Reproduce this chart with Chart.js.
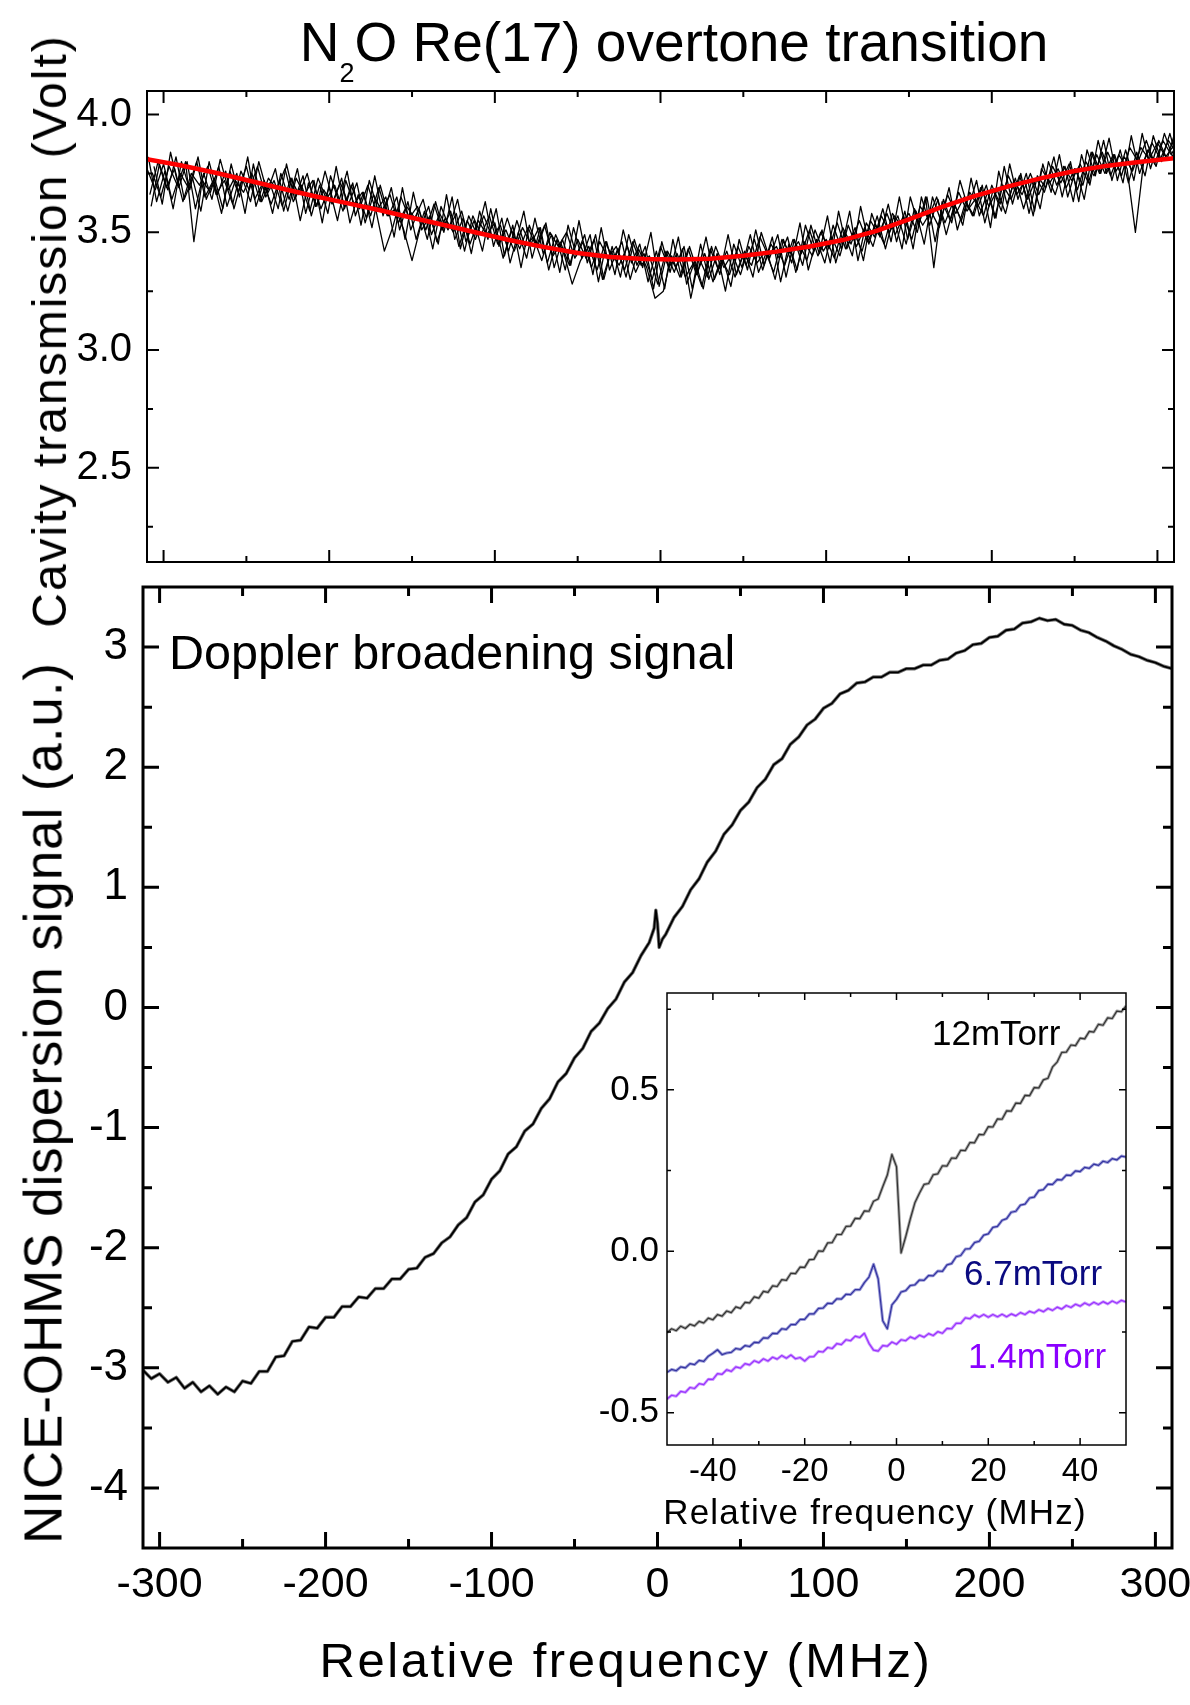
<!DOCTYPE html>
<html><head><meta charset="utf-8">
<script src="https://cdn.jsdelivr.net/npm/chart.js@4.4.1/dist/chart.umd.min.js"></script>
<style>
html,body{margin:0;padding:0;background:#fff;}
#wrap{position:relative;width:1190px;height:1705px;overflow:hidden;background:#fff}
canvas{position:absolute;left:0;top:0}
.t{position:absolute;white-space:nowrap;line-height:1;font-family:'Liberation Sans',Arial,Helvetica,sans-serif;color:#000}
.rot{transform:translate(-50%,-50%) rotate(-90deg)}
.cx{transform:translateX(-50%)}
.sub{font-size:27px;position:relative;top:21px}
</style></head><body>
<div id="wrap">
<canvas id="cTop" width="1190" height="1705"></canvas>
<canvas id="cMain" width="1190" height="1705"></canvas>
<canvas id="cInset" width="1190" height="1705"></canvas>
<div class="t cx" style="left:674px;top:15px;font-size:55px">N<span class="sub">2</span>O Re(17) overtone transition</div>
<div class="t rot" style="left:50px;top:331px;font-size:48px;letter-spacing:2px">Cavity transmission (Volt)</div>
<div class="t rot" style="left:43px;top:1103px;font-size:53px;letter-spacing:0.9px">NICE-OHMS dispersion signal (a.u.)</div>
<div class="t cx" style="left:626px;top:1636px;font-size:49px;letter-spacing:2.5px">Relative frequency (MHz)</div>
<div class="t" style="left:169px;top:628px;font-size:48.5px">Doppler broadening signal</div>
<div class="t cx" style="left:875px;top:1494px;font-size:35px;letter-spacing:1.2px">Relative frequency (MHz)</div>
<div class="t" style="left:932px;top:1015px;font-size:35px;color:#000">12mTorr</div>
<div class="t" style="left:964px;top:1255px;font-size:35px;color:#0a0a80">6.7mTorr</div>
<div class="t" style="left:968px;top:1338px;font-size:35px;color:#8a00ff">1.4mTorr</div>
</div>
<script>
// ---------------- DATA ----------------
// Top panel: cavity transmission (V) vs relative frequency (MHz), several overlaid sweeps
const topFreqStart = -310, topFreqStep = 5, topFreqCount = 125;
const topTraceOffsets = [0, 1.7, 3.3, 0.8, 2.5, 4.2];
const topTraceA = [3.77,3.68,3.79,3.64,3.75,3.69,3.80,3.65,3.72,3.58,
3.76,3.67,3.78,3.64,3.71,3.62,3.72,3.59,3.73,3.66,
3.72,3.60,3.69,3.55,3.72,3.62,3.67,3.57,3.69,3.57,
3.60,3.51,3.38,3.52,3.61,3.46,3.56,3.50,3.59,3.45,
3.55,3.49,3.54,3.39,3.51,3.43,3.52,3.44,3.53,3.40,
3.45,3.36,3.47,3.39,3.47,3.30,3.42,3.36,3.44,3.33,
3.41,3.30,3.44,3.35,3.41,3.31,3.37,3.27,3.43,3.34,
3.42,3.31,3.41,3.36,3.48,3.40,3.44,3.36,3.47,3.41,
3.51,3.40,3.47,3.39,3.52,3.45,3.55,3.46,3.53,3.45,
3.58,3.53,3.58,3.50,3.65,3.35,3.63,3.55,3.67,3.59,
3.64,3.57,3.70,3.62,3.74,3.66,3.72,3.57,3.77,3.71,
3.77,3.69,3.77,3.70,3.84,3.75,3.84,3.76,3.82,3.76,
3.86,3.81,3.88,3.82,3.87];
const topTraceB = [3.66,3.80,3.69,3.77,3.63,3.75,3.70,3.78,3.66,3.72,
3.62,3.76,3.68,3.78,3.65,3.72,3.61,3.73,3.66,3.75,
3.61,3.68,3.62,3.71,3.62,3.71,3.54,3.66,3.59,3.66,
3.54,3.61,3.56,3.64,3.49,3.58,3.51,3.58,3.42,3.57,
3.49,3.57,3.45,3.51,3.42,3.52,3.45,3.52,3.37,3.49,
3.41,3.28,3.38,3.44,3.34,3.46,3.38,3.46,3.30,3.43,
3.35,3.22,3.25,3.40,3.31,3.43,3.32,3.41,3.29,3.39,
3.32,3.44,3.36,3.47,3.34,3.45,3.39,3.48,3.33,3.46,
3.40,3.50,3.43,3.54,3.43,3.50,3.42,3.55,3.49,3.58,
3.49,3.57,3.47,3.61,3.56,3.65,3.54,3.63,3.55,3.67,
3.61,3.70,3.56,3.70,3.64,3.74,3.64,3.73,3.67,3.78,
3.71,3.79,3.68,3.80,3.74,3.84,3.74,3.83,3.77,3.50,
3.80,3.88,3.81,3.89,3.83];
const topTraceC = [3.75,3.65,3.78,3.70,3.80,3.46,3.72,3.67,3.78,3.61,
3.72,3.67,3.75,3.63,3.73,3.68,3.77,3.63,3.70,3.59,
3.73,3.64,3.70,3.59,3.70,3.60,3.70,3.59,3.42,3.52,
3.65,3.56,3.61,3.51,3.62,3.51,3.59,3.44,3.55,3.47,
3.57,3.48,3.53,3.42,3.55,3.44,3.48,3.38,3.50,3.44,
3.50,3.39,3.46,3.35,3.46,3.39,3.44,3.34,3.46,3.36,
3.40,3.28,3.42,3.33,3.43,3.22,3.39,3.31,3.44,3.35,
3.41,3.32,3.44,3.37,3.42,3.33,3.47,3.41,3.46,3.38,
3.51,3.42,3.48,3.40,3.53,3.44,3.52,3.44,3.57,3.50,
3.57,3.45,3.60,3.53,3.59,3.52,3.66,3.58,3.65,3.57,
3.69,3.61,3.68,3.58,3.72,3.66,3.75,3.66,3.74,3.66,
3.78,3.72,3.79,3.71,3.83,3.75,3.83,3.74,3.86,3.80,
3.89,3.79,3.89,3.83,3.89];
const topTraceD = [3.82,3.63,3.76,3.60,3.80,3.68,3.82,3.64,3.73,3.60,
3.79,3.65,3.82,3.61,3.72,3.58,3.75,3.64,3.77,3.58,
3.72,3.54,3.74,3.63,3.76,3.57,3.67,3.52,3.70,3.57,
3.65,3.47,3.67,3.51,3.57,3.45,3.66,3.47,3.56,3.41,
3.59,3.47,3.60,3.40,3.53,3.35,3.53,3.44,3.54,3.35,
3.47,3.36,3.55,3.37,3.49,3.30,3.44,3.31,3.49,3.36,
3.44,3.26,3.46,3.33,3.48,3.28,3.38,3.26,3.44,3.32,
3.49,3.32,3.42,3.31,3.50,3.39,3.49,3.31,3.47,3.36,
3.53,3.41,3.57,3.37,3.50,3.40,3.61,3.45,3.57,3.43,
3.57,3.43,3.65,3.53,3.65,3.46,3.64,3.54,3.72,3.60,
3.72,3.54,3.68,3.59,3.79,3.64,3.75,3.59,3.79,3.67,
3.83,3.65,3.77,3.64,3.84,3.75,3.90,3.72,3.85,3.72,
3.92,3.77,3.89,3.81,3.93];
const topTraceE = [3.61,3.79,3.68,3.82,3.64,3.73,3.59,3.80,3.66,3.76,
3.60,3.73,3.63,3.80,3.67,3.77,3.59,3.73,3.55,3.71,
3.61,3.76,3.63,3.73,3.54,3.66,3.56,3.74,3.57,3.69,
3.51,3.63,3.47,3.59,3.43,3.61,3.52,3.64,3.46,3.55,
3.42,3.60,3.44,3.56,3.45,3.59,3.39,3.52,3.34,3.47,
3.34,3.52,3.39,3.49,3.29,3.46,3.32,3.51,3.37,3.45,
3.29,3.42,3.26,3.47,3.31,3.44,3.33,3.48,3.30,3.39,
3.27,3.47,3.34,3.51,3.36,3.48,3.29,3.45,3.34,3.53,
3.42,3.51,3.37,3.59,3.43,3.52,3.38,3.58,3.48,3.62,
3.46,3.59,3.43,3.65,3.53,3.64,3.49,3.62,3.53,3.73,
3.57,3.67,3.56,3.78,3.62,3.75,3.58,3.74,3.69,3.82,
3.65,3.80,3.63,3.85,3.74,3.89,3.72,3.85,3.71,3.84,
3.74,3.91,3.80,3.92,3.79];
const topTraceF = [3.78,3.62,3.84,3.69,3.80,3.60,3.75,3.64,3.81,3.68,
3.75,3.58,3.79,3.63,3.71,3.60,3.79,3.64,3.74,3.57,
3.70,3.58,3.78,3.60,3.71,3.53,3.72,3.60,3.65,3.48,
3.69,3.51,3.60,3.47,3.63,3.50,3.65,3.43,3.57,3.49,
3.63,3.44,3.56,3.37,3.50,3.39,3.56,3.41,3.49,3.33,
3.53,3.40,3.49,3.32,3.52,3.34,3.43,3.31,3.47,3.35,
3.50,3.27,3.42,3.35,3.44,3.26,3.45,3.30,3.41,3.25,
3.45,3.35,3.49,3.33,3.42,3.30,3.47,3.37,3.54,3.34,
3.47,3.37,3.53,3.43,3.59,3.38,3.54,3.48,3.60,3.46,
3.65,3.47,3.59,3.45,3.65,3.55,3.69,3.51,3.63,3.57,
3.70,3.52,3.76,3.62,3.73,3.60,3.72,3.60,3.80,3.70,
3.78,3.63,3.83,3.70,3.89,3.75,3.83,3.71,3.91,3.75,
3.85,3.78,3.92,3.82,3.91];
const fitFreq = [-310,-290,-270,-250,-230,-210,-190,-170,-150,-130,-110,-90,-70,-50,-30,-10,10,30,50,70,90,110,130,150,170,190,210,230,250,270,290,310];
const fitTransmission = [3.810,3.785,3.755,3.722,3.688,3.655,3.625,3.595,3.562,3.530,3.497,3.465,3.437,3.412,3.395,3.387,3.385,3.388,3.400,3.418,3.440,3.467,3.505,3.555,3.608,3.655,3.695,3.730,3.760,3.783,3.800,3.815];

// Bottom panel: NICE-OHMS dispersion signal (a.u.)
const mainFreq = [-310,-305,-300,-295,-290,-285,-280,-275,-270,-265,-260,-255,-250,-245,-240,-235,-230,-225,-220,-215,-210,-205,-200,-195,-190,-185,-180,-175,-170,-165,-160,-155,-150,-145,-140,-135,-130,-125,-120,-115,-110,-105,-100,-95,-90,-85,-80,-75,-70,-65,-60,-55,-50,-45,-40,-35,-30,-25,-20,-15,-10,-5,
-2,-1,0,1,3,
5,10,15,20,25,30,35,40,45,50,55,60,65,70,75,80,85,90,95,100,105,110,115,120,125,130,135,140,145,150,155,160,165,170,175,180,185,190,195,200,205,210,215,220,225,230,235,240,245,250,255,260,265,270,275,280,285,290,295,300,305,310];
const mainSignal = [-3.02,-3.09,-3.05,-3.12,-3.08,-3.17,-3.12,-3.20,-3.15,-3.22,-3.16,-3.20,-3.11,-3.13,-3.03,-3.03,-2.91,-2.90,-2.78,-2.77,-2.66,-2.67,-2.58,-2.58,-2.49,-2.49,-2.41,-2.42,-2.34,-2.34,-2.26,-2.26,-2.18,-2.17,-2.08,-2.05,-1.96,-1.91,-1.81,-1.75,-1.62,-1.56,-1.43,-1.36,-1.22,-1.16,-1.03,-0.97,-0.84,-0.76,-0.62,-0.55,-0.42,-0.34,-0.20,-0.13,-0.01,0.07,0.21,0.29,0.43,0.54,
0.66,0.81,0.70,0.50,0.57,
0.61,0.75,0.84,0.98,1.07,1.21,1.30,1.44,1.52,1.64,1.71,1.83,1.90,2.02,2.07,2.19,2.25,2.35,2.40,2.49,2.53,2.61,2.64,2.70,2.71,2.75,2.75,2.79,2.79,2.82,2.82,2.85,2.85,2.89,2.90,2.95,2.97,3.02,3.03,3.08,3.09,3.14,3.15,3.20,3.21,3.24,3.22,3.23,3.19,3.18,3.14,3.12,3.08,3.05,3.01,2.98,2.94,2.92,2.89,2.87,2.84,2.82];

// Inset: three pressures, -50..50 MHz in 1 MHz steps
const insetFreqStart = -50, insetFreqCount = 101;
const signal12mTorr = [-0.252,-0.240,-0.246,-0.232,-0.239,-0.226,-0.231,-0.217,-0.222,-0.207,-0.212,-0.196,-0.201,-0.185,-0.190,-0.172,-0.177,-0.158,-0.160,-0.141,-0.145,-0.124,-0.127,-0.107,-0.109,-0.088,-0.090,-0.068,-0.069,-0.049,-0.050,-0.026,-0.025,0.001,0.000,0.026,0.027,0.052,0.052,0.077,0.078,0.102,0.101,0.125,0.124,0.155,0.162,0.200,0.236,0.300,
0.262,-0.005,0.045,0.100,0.150,0.180,0.207,0.210,0.237,0.240,0.265,0.264,0.289,0.288,0.313,0.312,0.337,0.336,0.362,0.361,0.386,0.385,0.410,0.409,0.435,0.434,0.459,0.458,0.483,0.482,0.507,0.506,0.531,0.536,0.571,0.586,0.616,0.617,0.639,0.637,0.660,0.658,0.681,0.679,0.703,0.700,0.723,0.721,0.744,0.742,0.760];
const signal6_7mTorr = [-0.375,-0.366,-0.370,-0.358,-0.361,-0.348,-0.351,-0.338,-0.341,-0.325,-0.316,-0.305,-0.320,-0.315,-0.313,-0.301,-0.304,-0.292,-0.295,-0.282,-0.283,-0.268,-0.269,-0.254,-0.255,-0.240,-0.242,-0.227,-0.227,-0.211,-0.211,-0.194,-0.194,-0.177,-0.176,-0.161,-0.162,-0.147,-0.148,-0.133,-0.134,-0.119,-0.119,-0.097,-0.080,-0.040,-0.085,-0.215,-0.240,-0.166,
-0.149,-0.126,-0.122,-0.106,-0.104,-0.089,-0.090,-0.075,-0.076,-0.061,-0.062,-0.042,-0.038,-0.017,-0.013,0.007,0.008,0.027,0.031,0.050,0.054,0.074,0.077,0.096,0.101,0.121,0.124,0.143,0.146,0.165,0.168,0.188,0.191,0.208,0.207,0.222,0.221,0.236,0.235,0.249,0.247,0.260,0.257,0.270,0.266,0.279,0.275,0.287,0.283,0.295,0.292];
const signal1_4mTorr = [-0.458,-0.446,-0.449,-0.434,-0.437,-0.422,-0.425,-0.410,-0.413,-0.396,-0.397,-0.379,-0.381,-0.367,-0.372,-0.358,-0.362,-0.348,-0.352,-0.339,-0.345,-0.333,-0.340,-0.328,-0.334,-0.323,-0.331,-0.321,-0.333,-0.329,-0.340,-0.327,-0.326,-0.310,-0.312,-0.298,-0.301,-0.286,-0.289,-0.274,-0.277,-0.263,-0.267,-0.254,-0.285,-0.306,-0.309,-0.292,-0.294,-0.281,
-0.288,-0.274,-0.277,-0.265,-0.271,-0.260,-0.266,-0.255,-0.261,-0.249,-0.254,-0.239,-0.240,-0.223,-0.223,-0.206,-0.209,-0.197,-0.204,-0.196,-0.204,-0.196,-0.203,-0.195,-0.203,-0.194,-0.200,-0.190,-0.196,-0.186,-0.191,-0.181,-0.187,-0.177,-0.183,-0.173,-0.179,-0.168,-0.174,-0.164,-0.170,-0.160,-0.167,-0.158,-0.165,-0.156,-0.163,-0.154,-0.161,-0.152,-0.157];

// Tick values and labels
const freqMajorTicks = [-300,-200,-100,0,100,200,300];
const freqMinorTicks = [-250,-150,-50,50,150,250];
const transMajorTicks = [2.5,3.0,3.5,4.0];
const transMinorTicks = [2.25,2.75,3.25,3.75];
const signalMajorTicks = [-4,-3,-2,-1,0,1,2,3];
const signalMinorTicks = [-3.5,-2.5,-1.5,-0.5,0.5,1.5,2.5];
const insetFreqMajorTicks = [-40,-20,0,20,40];
const insetFreqMinorTicks = [-30,-10,10,30];
const insetSigMajorTicks = [-0.5,0.0,0.5];
const insetSigMinorTicks = [-0.25,0.25,0.75];

// ---------------- HELPERS ----------------
const FONT = "'Liberation Sans', Arial, Helvetica, sans-serif";
const pts = (xs, ys) => ys.map((y, i) => ({x: xs[i], y}));
const grid = (start, step, n, off) => Array.from({length: n}, (_, i) => start + step * i + off);

const frameTicks = {
  id: 'frameTicks',
  beforeDatasetsDraw(chart, args, o) {
    if (!o.fill) return;
    const a = chart.chartArea, ctx = chart.ctx;
    ctx.save(); ctx.fillStyle = '#fff';
    ctx.fillRect(a.left, a.top, a.right - a.left, a.bottom - a.top);
    ctx.restore();
  },
  afterDatasetsDraw(chart, args, o) {
    const {ctx, chartArea: a} = chart;
    const xs = chart.scales.x, ys = chart.scales.y;
    ctx.save();
    ctx.strokeStyle = '#000';
    ctx.lineWidth = o.lineWidth;
    ctx.beginPath();
    const vt = (vals, len) => vals.forEach(v => {
      const p = xs.getPixelForValue(v);
      ctx.moveTo(p, a.bottom); ctx.lineTo(p, a.bottom - len);
      ctx.moveTo(p, a.top); ctx.lineTo(p, a.top + len);
    });
    const ht = (vals, len) => vals.forEach(v => {
      const p = ys.getPixelForValue(v);
      ctx.moveTo(a.left, p); ctx.lineTo(a.left + len, p);
      ctx.moveTo(a.right, p); ctx.lineTo(a.right - len, p);
    });
    vt(o.xMajor, o.major); vt(o.xMinor, o.minor);
    ht(o.yMajor, o.major); ht(o.yMinor, o.minor);
    ctx.stroke();
    ctx.strokeRect(a.left, a.top, a.right - a.left, a.bottom - a.top);
    ctx.restore();
  }
};

function linAxis(min, max, ticks, extra) {
  return Object.assign({
    type: 'linear', min, max,
    grid: {display: false, drawTicks: false},
    border: {display: false},
    afterBuildTicks(s) { s.ticks = ticks.map(v => ({value: v})); }
  }, extra);
}
function xFit(h) { return function (s) { s.height = h; s.paddingLeft = 0; s.paddingRight = 0; }; }
function yFit(w) { return function (s) { s.width = w; s.paddingTop = 0; s.paddingBottom = 0; }; }
function tickOpts(size, padding, fmt, show = true) {
  return {display: show, color: '#000', padding, autoSkip: false, maxRotation: 0,
          font: {family: FONT, size, lineHeight: 1}, callback: fmt};
}
const baseOpts = (padding, plugOpts, scales) => ({
  responsive: false, animation: false, devicePixelRatio: 1,
  layout: {padding},
  elements: {point: {radius: 0}, line: {tension: 0, borderJoinStyle: 'round'}},
  plugins: {legend: {display: false}, tooltip: {enabled: false}, frameTicks: plugOpts},
  scales
});

// ---------------- TOP PANEL ----------------
const traceSets = [topTraceA, topTraceB, topTraceC, topTraceD, topTraceE, topTraceF].map((vals, k) => ({
  data: pts(grid(topFreqStart, topFreqStep, topFreqCount, topTraceOffsets[k]), vals),
  borderColor: '#000', borderWidth: 1.3, order: 1
}));
new Chart(document.getElementById('cTop'), {
  type: 'line',
  data: {datasets: [
    {data: pts(fitFreq, fitTransmission), borderColor: '#ff0000', borderWidth: 4.5, order: 0},
    ...traceSets
  ]},
  options: baseOpts({left: 0, top: 91, right: 16, bottom: 1143},
    {lineWidth: 2, major: 12, minor: 6, xMajor: freqMajorTicks, xMinor: freqMinorTicks, yMajor: transMajorTicks, yMinor: transMinorTicks},
    {
      x: linAxis(-310, 310, freqMajorTicks, {ticks: tickOpts(10, 0, v => v, false), afterFit: xFit(0)}),
      y: linAxis(2.1, 4.1, transMajorTicks, {ticks: tickOpts(40, 15, v => Number(v).toFixed(1)), afterFit: yFit(147)})
    }),
  plugins: [frameTicks]
});

// ---------------- MAIN PANEL ----------------
new Chart(document.getElementById('cMain'), {
  type: 'line',
  data: {datasets: [
    {data: pts(mainFreq, mainSignal), borderColor: '#000', borderWidth: 1.8, order: 0},
    {data: pts(mainFreq, mainSignal), borderColor: 'rgba(0,0,0,0.55)', borderWidth: 3.5, order: 1}
  ]},
  options: baseOpts({left: 0, top: 587, right: 18, bottom: 0},
    {lineWidth: 3, major: 16, minor: 9, xMajor: freqMajorTicks, xMinor: freqMinorTicks, yMajor: signalMajorTicks, yMinor: signalMinorTicks},
    {
      x: linAxis(-310, 310, freqMajorTicks, {ticks: tickOpts(43, 16, v => String(v)), afterFit: xFit(157)}),
      y: linAxis(-4.5, 3.5, signalMajorTicks, {ticks: tickOpts(44, 15, v => String(v)), afterFit: yFit(143)})
    }),
  plugins: [frameTicks]
});

// ---------------- INSET ----------------
const insetFreq = grid(insetFreqStart, 1, insetFreqCount, 0);
const insetSeries = [
  {vals: signal12mTorr, halo: '#a8a8a8', core: '#333333'},
  {vals: signal6_7mTorr, halo: '#9c9cd8', core: '#3434a0'},
  {vals: signal1_4mTorr, halo: '#cf9cff', core: '#9933ff'}
];
const insetSets = [];
insetSeries.forEach(s => {
  insetSets.push({data: pts(insetFreq, s.vals), borderColor: s.halo, borderWidth: 3, order: 1});
  insetSets.push({data: pts(insetFreq, s.vals), borderColor: s.core, borderWidth: 1.2, order: 0});
});
new Chart(document.getElementById('cInset'), {
  type: 'line',
  data: {datasets: insetSets},
  options: baseOpts({left: 0, top: 993, right: 64, bottom: 200},
    {fill: true, lineWidth: 1.5, major: 7, minor: 4, xMajor: insetFreqMajorTicks, xMinor: insetFreqMinorTicks, yMajor: insetSigMajorTicks, yMinor: insetSigMinorTicks},
    {
      x: linAxis(-50, 50, insetFreqMajorTicks, {ticks: tickOpts(33, 10, v => String(v)), afterFit: xFit(60)}),
      y: linAxis(-0.6, 0.8, insetSigMajorTicks, {ticks: tickOpts(35, 8, v => Number(v).toFixed(1)), afterFit: yFit(667)})
    }),
  plugins: [frameTicks]
});
</script>
</body></html>
